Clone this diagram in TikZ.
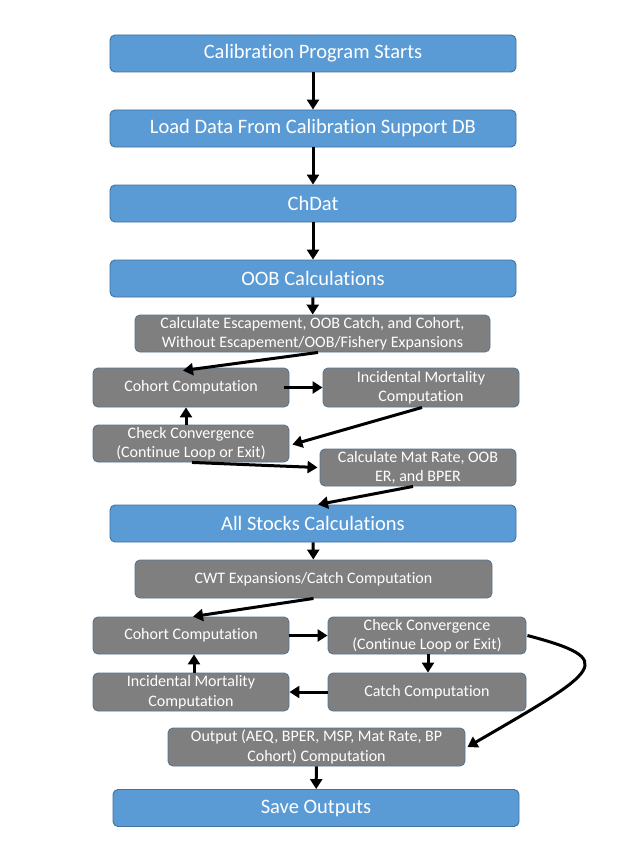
\documentclass[tikz,border=0pt]{standalone}
\usepackage{fontspec}
\setmainfont{Carlito}[Ligatures={NoCommon}]
\usetikzlibrary{arrows.meta}
\definecolor{bfill}{HTML}{5B9BD5}
\definecolor{bdraw}{HTML}{41719C}
\definecolor{gfill}{HTML}{7F7F7F}
\definecolor{gdraw}{HTML}{5A7590}
\begin{document}
\begin{tikzpicture}[x=1pt,y=-1pt,
  bluebox/.style={draw=bdraw,fill=bfill,line width=0.9pt,rounded corners=5pt,text=white,
    minimum width=406pt,minimum height=37pt,inner sep=0pt,font=\fontsize{20.5}{24}\selectfont,align=center},
  graybox/.style={draw=gdraw,fill=gfill,line width=0.9pt,rounded corners=5pt,text=white,
    minimum height=38pt,inner sep=0pt,font=\fontsize{16}{19.5}\selectfont,align=center},
  arr/.style={draw=black,line width=3pt,-{Triangle[length=10pt,width=12pt]}}]
\useasboundingbox[fill=white] (0,0) rectangle (624,848);
\node[bluebox] (B1) at (313,53.5) {Calibration Program Starts};
\node[bluebox] (B2) at (313,128.5) {Load Data From Calibration Support DB};
\node[bluebox] (B3) at (313,203.5) {ChDat};
\node[bluebox] (B4) at (313,278.5) {OOB Calculations};
\node[graybox,minimum width=355pt,minimum height=37pt] (G1) at (312.5,333.5) {Calculate Escapement, OOB Catch, and Cohort,\\Without Escapement/OOB/Fishery Expansions};
\node[graybox,minimum width=196pt,minimum height=39pt] (G2) at (191,387.5) {Cohort Computation};
\node[graybox,minimum width=196pt,minimum height=39pt] (G3) at (421,387.5) {Incidental Mortality\\Computation};
\node[graybox,minimum width=196pt,minimum height=37pt] (G4) at (191,443.5) {Check Convergence\\(Continue Loop or Exit)};
\node[graybox,minimum width=196pt,minimum height=37pt] (G5) at (418,467.5) {Calculate Mat Rate, OOB\\ER, and BPER};
\node[bluebox] (B5) at (313,523.5) {All Stocks Calculations};
\node[graybox,minimum width=357pt] (G6) at (313.5,579) {CWT Expansions/Catch Computation};
\node[graybox,minimum width=196pt,minimum height=37pt] (G7) at (191,635.5) {Cohort Computation};
\node[graybox,minimum width=198pt,minimum height=37pt] (G8) at (427,635.5) {Check Convergence\\(Continue Loop or Exit)};
\node[graybox,minimum width=196pt] (G9) at (191,692) {Incidental Mortality\\Computation};
\node[graybox,minimum width=198pt] (G10) at (427,692) {Catch Computation};
\node[graybox,minimum width=297pt] (G11) at (316.5,747) {Output (AEQ, BPER, MSP, Mat Rate, BP\\Cohort) Computation};
\node[bluebox] (B6) at (316,808) {Save Outputs};
\draw[arr] (B1) -- (B2);
\draw[arr] (B2) -- (B3);
\draw[arr] (B3) -- (B4);
\draw[arr] (B4) -- (G1);
\draw[arr] ([xshift=5.5pt]G1.south) -- ([xshift=-8pt,yshift=-3pt]G2.north);
\draw[arr] ([xshift=-5pt]G2.east) -- (G3.west);
\draw[arr] ([xshift=1pt]G3.south) -- ([xshift=3pt,yshift=-1pt]G4.east);
\draw[arr] ([xshift=-5pt]G4.north) -- ([xshift=-5pt]G2.south);
\draw[arr] ([xshift=1pt]G4.south) -- ([xshift=-2pt]G5.west);
\draw[arr] ([xshift=-5pt]G5.south) -- ([xshift=5pt]B5.north);
\draw[arr] (B5) -- (G6);
\draw[arr] (G6.south) -- ([xshift=2pt]G7.north);
\draw[arr] (G7.east) -- (G8.west);
\draw[arr] ([xshift=1pt]G8.south) -- ([xshift=1pt]G10.north);
\draw[arr] (G10.west) -- (G9.east);
\draw[arr] ([xshift=3pt]G9.north) -- ([xshift=3pt]G7.south);
\draw[arr] ([xshift=1pt]G8.east) .. controls (620,660) and (600,670) .. ([xshift=2pt]G11.east);
\draw[arr] (G11) -- (B6);
\end{tikzpicture}
\end{document}
